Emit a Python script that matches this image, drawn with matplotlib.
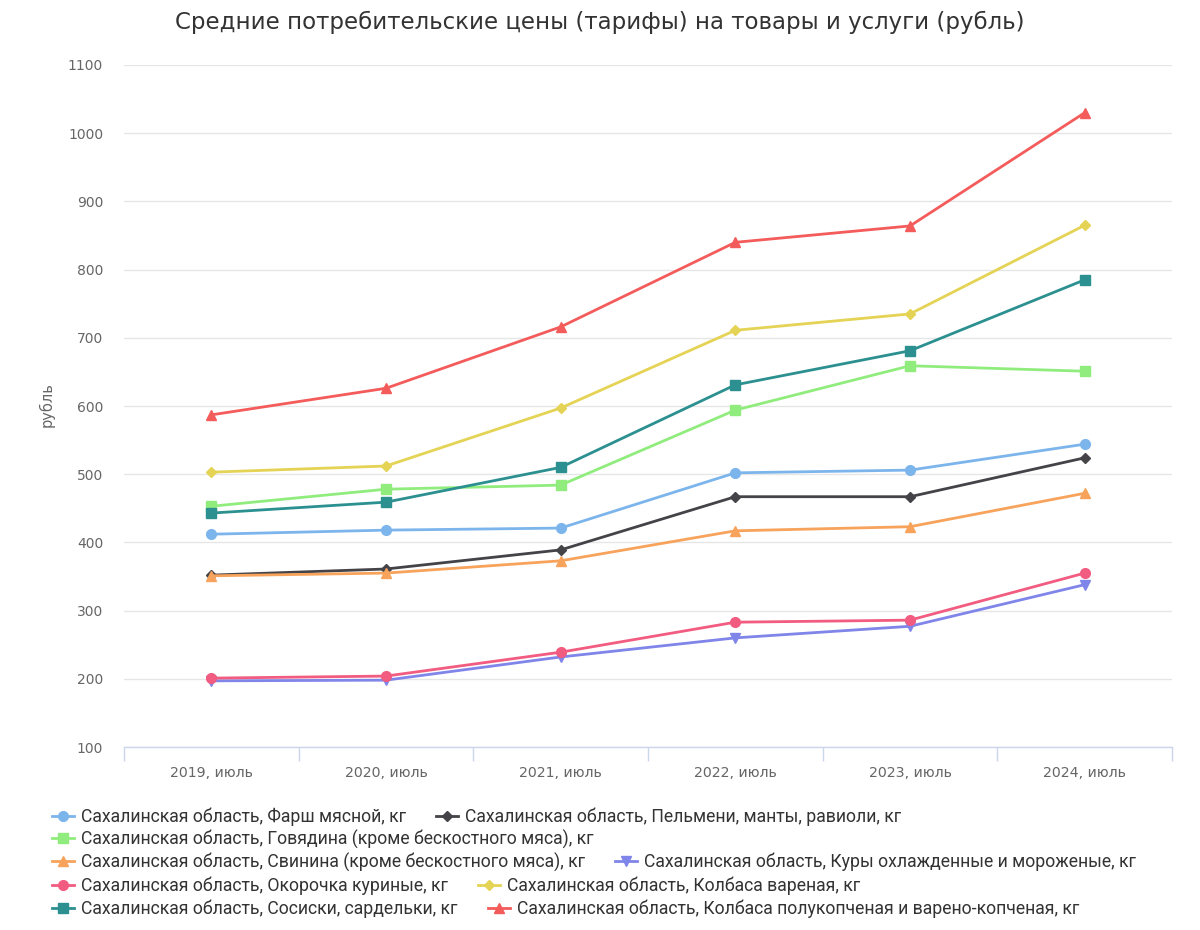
import numpy as np
import matplotlib.pyplot as plt
from matplotlib.ticker import FixedLocator

years = ["2019, июль", "2020, июль", "2021, июль", "2022, июль", "2023, июль", "2024, июль"]

farsh = [412, 418, 421, 502, 506, 544]
pelmeni = [352, 361, 389, 467, 467, 524]
govyadina = [453, 478, 484, 594, 659, 651]
svinina = [351, 355, 373, 417, 423, 472]
kury = [197, 198, 232, 260, 277, 338]
okorochka = [201, 204, 239, 283, 286, 355]
kolbasa_var = [503, 512, 597, 711, 735, 865]
sosiski = [443, 459, 510, 631, 681, 785]
kolbasa_pk = [587, 626, 716, 840, 864, 1030]

names = [
    "Сахалинская область, Фарш мясной, кг",
    "Сахалинская область, Пельмени, манты, равиоли, кг",
    "Сахалинская область, Говядина (кроме бескостного мяса), кг",
    "Сахалинская область, Свинина (кроме бескостного мяса), кг",
    "Сахалинская область, Куры охлажденные и мороженые, кг",
    "Сахалинская область, Окорочка куриные, кг",
    "Сахалинская область, Колбаса вареная, кг",
    "Сахалинская область, Сосиски, сардельки, кг",
    "Сахалинская область, Колбаса полукопченая и варено-копченая, кг",
]
series = [farsh, pelmeni, govyadina, svinina, kury, okorochka, kolbasa_var, sosiski, kolbasa_pk]
colors = ["#7cb5ec", "#434348", "#90ed7d", "#f7a35c", "#8085e9",
          "#f15c80", "#e4d354", "#2b908f", "#f45b5b"]
markers = ["o", "D", "s", "^", "v", "o", "D", "s", "^"]
msizes = [7, 5.5, 7, 7.5, 7.5, 7, 5.5, 7, 7.5]

plt.rcParams["font.family"] = ["DejaVu Sans"]

fig = plt.figure(figsize=(12, 9.3), dpi=100)
ax = fig.add_axes([124 / 1200, 1 - 747 / 930, 1048 / 1200, 682 / 930])

x = np.arange(len(years))
handles = []
for vals, name, c, m, ms in zip(series, names, colors, markers, msizes):
    h, = ax.plot(x, vals, color=c, marker=m, markersize=ms, linewidth=2,
                 label=name, clip_on=False, zorder=3)
    handles.append(h)

ax.set_xlim(-0.5, len(years) - 0.5)
ax.set_ylim(100, 1100)
ax.set_yticks(np.arange(100, 1101, 100))
ax.tick_params(axis="y", length=0, labelsize=10, labelcolor="#666666", pad=15)

ax.set_xticks(x)
ax.set_xticklabels(years)
ax.xaxis.set_minor_locator(FixedLocator(np.arange(-0.5, len(years), 1)))
ax.tick_params(axis="x", which="major", length=0, labelsize=10.2,
               labelcolor="#666666", pad=14)
ax.tick_params(axis="x", which="minor", length=10, color="#ccd6eb", width=1)

ax.grid(axis="y", color="#e6e6e6", linewidth=1)
ax.set_axisbelow(True)
for s in ["top", "right", "left"]:
    ax.spines[s].set_visible(False)
ax.spines["bottom"].set_color("#ccd6eb")
ax.spines["bottom"].set_linewidth(1)

fig.text(47 / 1200, 1 - 405 / 930, "рубль", rotation=90, ha="center", va="center",
         fontsize=10.5, color="#666666")

fig.text(0.5, 1 - 22 / 930, "Средние потребительские цены (тарифы) на товары и услуги (рубль)",
         ha="center", va="center", fontsize=16.5, color="#333333")

# legend rows laid out like the original
rows = [[0, 1], [2], [3, 4], [5, 6], [7, 8]]
row_y = [817, 839, 862, 886, 909]
for idx, yy in zip(rows, row_y):
    fig.legend([handles[i] for i in idx], [names[i] for i in idx],
               loc="center left", bbox_to_anchor=(52 / 1200, 1 - yy / 930),
               ncol=len(idx), frameon=False, handlelength=1.25, handletextpad=0.4,
               columnspacing=1.7, borderaxespad=0, borderpad=0,
               prop={"family": "Roboto", "size": 12.7}, labelcolor="#333333")

fig.savefig("out.png", dpi=100, facecolor="white")
